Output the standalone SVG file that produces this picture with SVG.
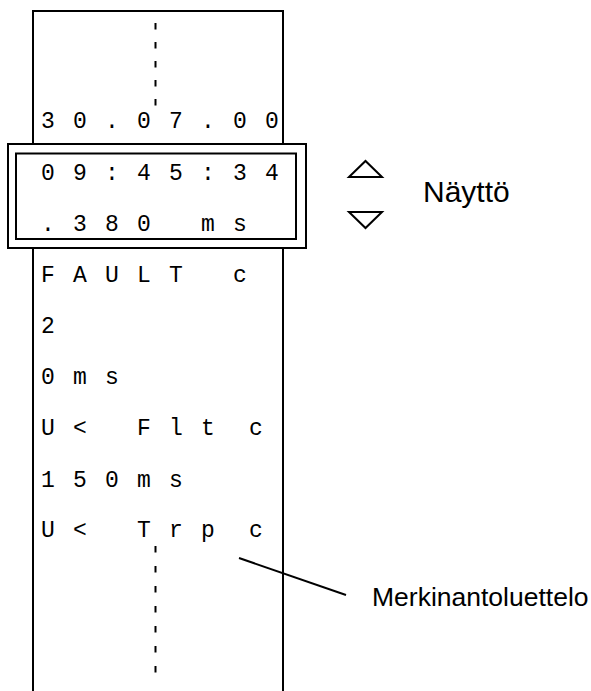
<svg xmlns="http://www.w3.org/2000/svg" width="591" height="691" viewBox="0 0 591 691">
<style>
.ln{stroke:#000;stroke-width:2;fill:none}
.box{stroke:#000;stroke-width:2;fill:#fff}
.dash{stroke:#000;stroke-width:2;fill:none;stroke-dasharray:6.5 12.5}
.dash2{stroke:#000;stroke-width:2;fill:none;stroke-dasharray:6.5 13.5}
.mono{font-family:"Liberation Mono","DejaVu Sans Mono",monospace;font-size:23px;fill:#000;text-anchor:middle}
.lbl{font-family:"Liberation Sans",Arial,sans-serif;fill:#000}
</style>
<rect width="591" height="691" fill="#fff"/>
<g id="strip">
<path class="ln" d="M33,691 V11 H283 V691"/>
<line class="dash" x1="155.5" y1="23" x2="155.5" y2="106"/>
<line class="dash2" x1="155.5" y1="546" x2="155.5" y2="675"/>
<text class="mono" x="48 80 112 144 176 208 240 272" y="128">30.07.00</text>
<text class="mono" x="48 80 112 144 176 240" y="282">FAULTc</text>
<text class="mono" x="48" y="333">2</text>
<text class="mono" x="48 80 112" y="384">0ms</text>
<text class="mono" x="48 80 144 176 208 256" y="435">U&lt;Fltc</text>
<text class="mono" x="48 80 112 144 176" y="487">150ms</text>
<text class="mono" x="48 80 144 176 208 256" y="537">U&lt;Trpc</text>
</g>
<g id="display">
<rect class="box" x="8" y="144" width="298" height="104"/>
<rect class="box" x="16" y="153.5" width="280" height="85.5"/>
<text class="mono" x="48 80 112 144 176 208 240 272" y="180">09:45:34</text>
<text class="mono" x="48 80 112 144 208 240" y="231">.380ms</text>
</g>
<g id="arrows">
<path class="ln" d="M349,177 L365.5,161 L382,177 Z"/>
<path class="ln" d="M349,212 L382,212 L365.5,228 Z"/>
</g>
<g id="label-naytto">
<text class="lbl" x="423" y="202" font-size="30">Näyttö</text>
</g>
<g id="label-merkinanto">
<text class="lbl" x="372" y="606" font-size="26.5">Merkinantoluettelo</text>
</g>
<g id="connectors">
<line class="ln" x1="239" y1="558" x2="346" y2="595"/>
</g>
</svg>
